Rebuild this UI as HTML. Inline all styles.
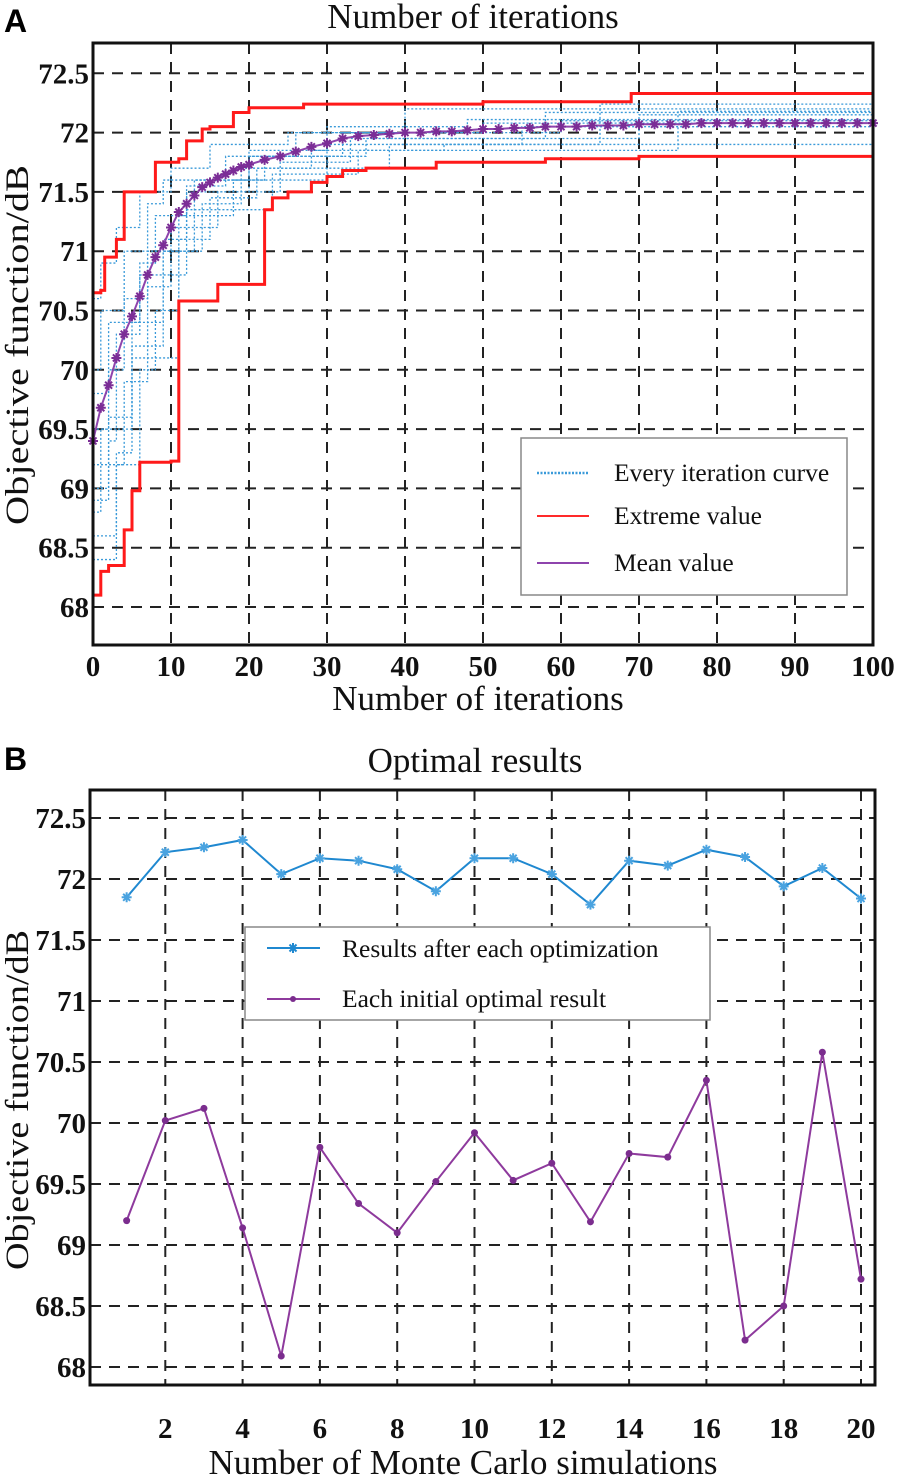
<!DOCTYPE html>
<html><head><meta charset="utf-8"><style>
html,body{margin:0;padding:0;background:#fff}
svg{display:block}
.tk{font-family:"Liberation Serif",serif;font-weight:bold;font-size:29px;fill:#111}
.ttl{font-family:"Liberation Serif",serif;font-size:35px;fill:#111}
.yt{font-family:"Liberation Serif",serif;font-size:33px;fill:#111}
.lg{font-family:"Liberation Serif",serif;font-size:25.5px;fill:#111}
.pl{font-family:"Liberation Sans",sans-serif;font-weight:bold;font-size:32px;fill:#000}
</style></head><body>
<svg id="c" width="901" height="1478" viewBox="0 0 901 1478">
<text class="pl" x="4" y="32">A</text>
<text class="ttl" x="473" y="28" text-anchor="middle">Number of iterations</text>
<text class="ttl" x="478" y="710" text-anchor="middle">Number of iterations</text>
<text class="yt" transform="translate(28,345) rotate(-90)" text-anchor="middle" textLength="360" lengthAdjust="spacingAndGlyphs">Objective function/dB</text>
<text class="pl" x="4" y="770">B</text>
<text class="ttl" x="475" y="772" text-anchor="middle">Optimal results</text>
<text class="ttl" x="463" y="1474" text-anchor="middle" textLength="509" lengthAdjust="spacingAndGlyphs">Number of Monte Carlo simulations</text>
<text class="yt" transform="translate(28,1100) rotate(-90)" text-anchor="middle" textLength="340" lengthAdjust="spacingAndGlyphs">Objective function/dB</text>
<g id="ga"></g><g id="gb"></g>
</svg>
<script>
// ---- Chart A data ----
const aXTicks=[0,10,20,30,40,50,60,70,80,90,100];
const aYTicks=[68,68.5,69,69.5,70,70.5,71,71.5,72,72.5];
const aYTickLabels=["68","68.5","69","69.5","70","70.5","71","71.5","72","72.5"];
const upperX=[0,1,1.5,3,4,8,11,12,14,15,18,20,27,50,69,100];
const upperY=[70.65,70.67,70.95,71.1,71.5,71.75,71.78,71.93,72.03,72.05,72.17,72.21,72.24,72.26,72.33,72.33];
const lowerX=[0,1,2,4,5,6,10,11,16,22,23,25,28,30,32,35,44,58,70,100];
const lowerY=[68.1,68.3,68.35,68.65,68.98,69.22,69.23,70.58,70.72,71.35,71.45,71.5,71.58,71.63,71.68,71.7,71.75,71.78,71.8,71.8];
const meanX=[0,1,2,3,4,5,6,7,8,9,10,11,12,13,14,15,16,17,18,19,20,22,24,26,28,30,32,34,36,38,40,42,44,46,48,50,52,54,56,58,60,62,64,66,68,70,72,74,76,78,80,82,84,86,88,90,92,94,96,98,100];
const meanY=[69.4,69.68,69.87,70.1,70.3,70.45,70.62,70.8,70.95,71.05,71.2,71.33,71.4,71.47,71.54,71.58,71.62,71.65,71.68,71.71,71.73,71.77,71.8,71.84,71.88,71.91,71.95,71.97,71.98,71.99,72.0,72.0,72.01,72.01,72.02,72.03,72.03,72.04,72.04,72.05,72.05,72.05,72.06,72.06,72.06,72.07,72.07,72.07,72.07,72.08,72.08,72.08,72.08,72.08,72.08,72.08,72.08,72.08,72.08,72.08,72.08];
const runsX=[
[0,2,5,9,12,20,32,60,100],[0,1,3,6,10,15,25,40,100],[0,3,6,8,11,18,30,55,100],[0,2,4,7,13,22,35,70,100],
[0,1,5,9,14,19,28,45,100],[0,4,7,10,16,24,33,58,100],[0,2,6,8,12,17,26,50,100],[0,3,5,11,15,21,38,65,100],
[0,1,4,7,9,20,30,48,100],[0,2,3,6,12,23,34,75,100]];
const runsY=[
[69.0,69.6,70.4,71.1,71.5,71.8,72.0,72.1,72.1],[70.6,70.9,71.2,71.5,71.7,71.9,72.0,72.2,72.2],[68.4,69.2,70.0,70.5,71.3,71.6,71.9,72.05,72.05],[69.5,70.0,70.6,71.0,71.6,71.8,71.95,72.15,72.15],
[68.8,69.5,70.2,71.0,71.4,71.7,71.85,71.9,71.9],[69.2,69.9,70.7,71.2,71.5,71.75,71.95,72.17,72.17],[69.8,70.4,70.9,71.3,71.55,71.8,72.0,72.08,72.08],[68.6,69.3,70.1,71.1,71.45,71.7,71.9,72.24,72.24],
[70.0,70.5,71.0,71.4,71.6,71.85,72.05,72.11,72.11],[68.9,69.4,70.3,70.8,71.35,71.65,71.85,72.18,72.18]];
// ---- Chart B data ----
const bXTicks=[2,4,6,8,10,12,14,16,18,20];
const bYTicks=[68,68.5,69,69.5,70,70.5,71,71.5,72,72.5];
const bYTickLabels=["68","68.5","69","69.5","70","70.5","71","71.5","72","72.5"];
const simIndex=[1,2,3,4,5,6,7,8,9,10,11,12,13,14,15,16,17,18,19,20];
const afterOpt=[71.85,72.22,72.26,72.32,72.04,72.17,72.15,72.08,71.9,72.17,72.17,72.04,71.79,72.15,72.11,72.24,72.18,71.94,72.09,71.84];
const initialOpt=[69.2,70.02,70.12,69.14,68.09,69.8,69.34,69.1,69.52,69.92,69.53,69.67,69.19,69.75,69.72,70.35,68.22,68.5,70.58,68.72];

const NS="http://www.w3.org/2000/svg";
function mk(p,t,a){const e=document.createElementNS(NS,t);for(const k in a)e.setAttribute(k,a[k]);p.appendChild(e);return e;}

function frame(g,L,R,T,B,sx,sy,xT,xLab,yT,yLab,pre,xLabY){
  for(let i=0;i<yT.length;i++){const y=sy(yT[i]);
    const l=mk(g,'line',{x1:L,x2:R,y1:y,y2:y,stroke:'#222','stroke-width':2,'stroke-dasharray':'11,8'});
    
    
    const t=mk(g,'text',{x:L-4,y:y+10,'text-anchor':'end',class:'tk'});t.textContent=yLab[i];
    
    }
  for(let i=0;i<xT.length;i++){const x=sx(xT[i]);
    if(x>L+2&&x<R-2){const l=mk(g,'line',{x1:x,x2:x,y1:T,y2:B,stroke:'#222','stroke-width':2,'stroke-dasharray':'11,8'});
    
    }
    const t=mk(g,'text',{x:x,y:xLabY,'text-anchor':'middle',class:'tk'});t.textContent=xLab[i];
    
    }
}
function box(g,L,R,T,B,pre){
  const r=mk(g,'rect',{x:L,y:T,width:R-L,height:B-T,fill:'none',stroke:'#111','stroke-width':3});
  
  
}
function stepPath(xs,ys,sx,sy){let d='M'+sx(xs[0])+','+sy(ys[0]);for(let i=1;i<xs.length;i++){d+=' H'+sx(xs[i])+' V'+sy(ys[i]);}return d;}
function star(g,x,y,r,c,name){
  const s=mk(g,'path',{d:`M${x-r},${y}H${x+r}M${x},${y-r}V${y+r}M${x-r*.7},${y-r*.7}L${x+r*.7},${y+r*.7}M${x-r*.7},${y+r*.7}L${x+r*.7},${y-r*.7}`,stroke:c,'stroke-width':2,fill:'none'});
  
  
}

// Chart A
(function(){
 const g=document.getElementById('ga');const L=93,R=873,T=43,B=645;
 const sx=v=>L+(v-0)/100*(R-L);const sy=v=>607-(v-68)*118.6;
 frame(g,L,R,T,B,sx,sy,aXTicks,aXTicks.map(String),aYTicks,aYTickLabels,'chart-a',676);
 for(let k=0;k<runsX.length;k++){
  const p=mk(g,'path',{d:stepPath(runsX[k],runsY[k],sx,sy),fill:'none',stroke:'#3a9ad9','stroke-width':1.3,'stroke-dasharray':'2,2'});
  
  
 }
 const up=mk(g,'path',{d:stepPath(upperX,upperY,sx,sy),fill:'none',stroke:'#ff1a1a','stroke-width':3});
 
 
 const lo=mk(g,'path',{d:stepPath(lowerX,lowerY,sx,sy),fill:'none',stroke:'#ff1a1a','stroke-width':3});
 
 
 const m=mk(g,'polyline',{points:meanX.map((x,i)=>sx(x)+','+sy(meanY[i])).join(' '),fill:'none',stroke:'#8e44ad','stroke-width':2});
 
 
 for(let i=0;i<meanX.length;i++)star(g,sx(meanX[i]),sy(meanY[i]),5,'#7b2d96','mean-marker');
 box(g,L,R,T,B,'chart-a');
 const lg=mk(g,'g',{});
 mk(lg,'rect',{x:521,y:438,width:326,height:157,fill:'#fff',stroke:'#888','stroke-width':1.5});
 const items=[['Every iteration curve','#3a9ad9','2,1.5',473],['Extreme value','#ff2a2a','',516],['Mean value','#8e44ad','',563]];
 items.forEach(it=>{const e=mk(lg,'g',{});
  const a={x1:537,x2:589,y1:it[3],y2:it[3],stroke:it[1],'stroke-width':it[2]?2.5:2};if(it[2])a['stroke-dasharray']=it[2];mk(e,'line',a);
  const t=mk(e,'text',{x:614,y:it[3]+8,class:'lg'});t.textContent=it[0];});
})();

// Chart B
(function(){
 const g=document.getElementById('gb');const L=90,R=875,T=790,B=1385;
 const sx=v=>88+v*38.65;const sy=v=>1367-(v-68)*122;
 frame(g,L,R,T,B,sx,sy,bXTicks,bXTicks.map(String),bYTicks,bYTickLabels,'chart-b',1438);
 const l1=mk(g,'polyline',{points:simIndex.map((x,i)=>sx(x)+','+sy(afterOpt[i])).join(' '),fill:'none',stroke:'#1f88d0','stroke-width':2});
 
 
 for(let i=0;i<simIndex.length;i++)star(g,sx(simIndex[i]),sy(afterOpt[i]),5,'#4aa3e0','after-opt-marker');
 const l2=mk(g,'polyline',{points:simIndex.map((x,i)=>sx(x)+','+sy(initialOpt[i])).join(' '),fill:'none',stroke:'#8e3a9d','stroke-width':2});
 
 
 for(let i=0;i<simIndex.length;i++){const c=mk(g,'circle',{cx:sx(simIndex[i]),cy:sy(initialOpt[i]),r:3.5,fill:'#7b2d8e'});
  
  }
 box(g,L,R,T,B,'chart-b');
 const lg=mk(g,'g',{});
 mk(lg,'rect',{x:245,y:927,width:465,height:93,fill:'#fff',stroke:'#888','stroke-width':1.5});
 const e1=mk(lg,'g',{});
 mk(e1,'line',{x1:267,x2:320,y1:948,y2:948,stroke:'#1f88d0','stroke-width':2});star(e1,293,948,5,'#1f88d0','legend-marker');
 const t1=mk(e1,'text',{x:342,y:957,class:'lg'});t1.textContent='Results after each optimization';
 const e2=mk(lg,'g',{});
 mk(e2,'line',{x1:267,x2:320,y1:999,y2:999,stroke:'#8e3a9d','stroke-width':2});mk(e2,'circle',{cx:293,cy:999,r:3,fill:'#7b2d8e'});
 const t2=mk(e2,'text',{x:342,y:1007,class:'lg'});t2.textContent='Each initial optimal result';
})();
</script>
</body></html>
